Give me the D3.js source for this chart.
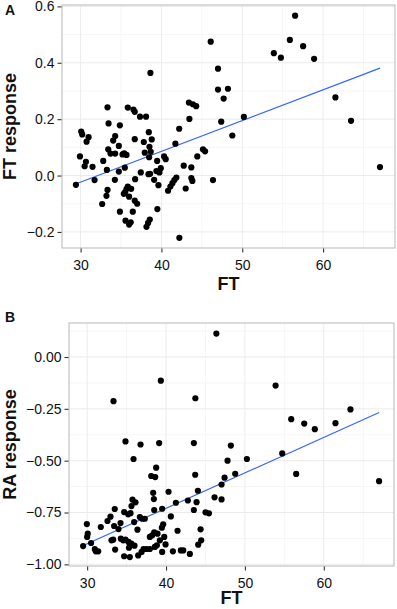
<!DOCTYPE html>
<html lang="en">
<head>
  <meta charset="UTF-8">
  <title>FT vs FT response / RA response</title>
  <script src="https://d3js.org/d3.v7.min.js"></script>
  <style>
    body { margin: 0; background: #fff; font-family: "Liberation Sans", Arial, sans-serif; }
    .grid-major { stroke: #ebebeb; stroke-width: 1px; }
    .grid-minor { stroke: #f6f6f6; stroke-width: 1px; }
    .border { fill: none; stroke: #b8b8b8; stroke-width: 1px; }
    .tick-label { font-size: 14px; fill: #111; }
    .axis-title { font-size: 18px; font-weight: bold; fill: #111; }
    .panel-tag { font-size: 14px; font-weight: bold; fill: #111; }
    .fit { fill: none; stroke: #3366ff; stroke-width: 1.2px; }
    .dot { fill: #000; }
  </style>
</head>
<body>
  <svg width="397" height="609"></svg>
  <script>
    // panel A: FT vs FT response
    var ftA = [46.1,47.0,38.64,47.0,48.23,47.7,33.33,35.84,36.54,36.7,43.4,43.9,44.3,38.1,37.35,43.46,50.2,47.4,33.46,34.86,42.2,38.44,
               30.08,30.2,30.99,30.74,34.28,34.03,36.7,38.8,48.77,37.82,41.73,34.73,38.52,33.42,33.7,34.28,35.19,35.68,35.4,37.94,38.68,
               45.14,45.4,44.44,40.33,40.53,29.92,38.48,39.47,32.8,30.66,30.5,31.48,35.47,33.25,34.73,39.92,39.38,39.75,42.76,43.7,37.45,
               38.4,38.6,31.73,34.24,36.75,39.1,41.85,41.6,41.36,41.11,40.82,43.7,43.83,46.38,39.63,29.42,33.33,35.84,35.68,35.51,35.35,
               36.26,33.2,36.0,43.0,36.7,37.0,32.67,39.5,34.86,36.46,35.56,36.0,36.2,38.56,38.35,38.15,42.22,
               56.54,55.89,57.53,53.91,54.78,58.89,61.53,63.46,67.04];
    var respA = [0.475,0.379,0.364,0.305,0.308,0.273,0.242,0.241,0.234,0.226,0.259,0.253,0.246,0.209,0.209,0.201,0.208,0.191,0.185,0.178,0.166,0.154,
                 0.156,0.146,0.136,0.12,0.14,0.124,0.129,0.128,0.142,0.119,0.113,0.105,0.102,0.093,0.078,0.078,0.075,0.073,0.079,0.081,0.084,
                 0.093,0.086,0.068,0.068,0.058,0.068,0.065,0.052,0.052,0.049,0.033,0.031,0.028,0.02,0.014,0.026,0.016,0.011,0.035,0.029,0.011,
                 0.005,0.006,-0.016,-0.015,-0.013,-0.015,-0.007,-0.016,-0.027,-0.039,-0.054,-0.009,-0.019,-0.016,-0.034,-0.033,-0.051,-0.039,-0.048,-0.059,-0.065,
                 -0.047,-0.072,-0.075,-0.046,-0.089,-0.1,-0.101,-0.119,-0.128,-0.128,-0.16,-0.174,-0.166,-0.156,-0.168,-0.182,-0.221,
                 0.567,0.481,0.459,0.434,0.418,0.414,0.277,0.194,0.03];
    // fitted line (FT, response)
    var fitA = [[29.47, -0.029], [67.04, 0.381]];

    // panel B: FT vs RA response
    var ftB = [39.34,33.34,43.72,46.38,53.89,55.87,57.52,58.86,61.48,63.38,54.73,56.5,67.01,
               34.86,36.77,39.13,43.53,48.22,35.88,47.8,50.25,38.75,38.12,38.63,43.7,48.77,47.42,47.04,40.32,38.37,44.04,38.46,46.15,47.04,
               43.87,42.77,41.25,35.75,36.13,35.62,33.5,39.51,38.5,43.53,45.01,45.44,34.69,35.2,35.5,32.96,40.61,36.68,36.98,35.96,37.31,
               32.58,34.23,29.96,31.73,33.42,33.97,39.64,39.47,36.38,44.38,41.46,30.08,30.0,38.5,38.92,38.25,37.95,39.77,33.09,33.3,34.27,
               34.57,34.86,35.24,35.6,36.0,35.3,44.46,39.22,29.49,30.5,30.97,31.4,31.1,33.55,37.15,37.53,37.95,36.9,39.94,39.51,40.87,
               41.88,42.18,43.02,44.08,34.69,35.41,36.47,38.58,38.84];
    var respB = [-0.114,-0.213,-0.199,0.113,-0.138,-0.30,-0.321,-0.348,-0.319,-0.253,-0.465,-0.564,-0.599,
                 -0.407,-0.422,-0.415,-0.415,-0.427,-0.492,-0.50,-0.492,-0.534,-0.574,-0.579,-0.568,-0.563,-0.582,-0.615,-0.65,-0.655,-0.645,-0.685,-0.677,-0.687,
                 -0.70,-0.692,-0.703,-0.688,-0.701,-0.719,-0.733,-0.732,-0.738,-0.738,-0.749,-0.754,-0.748,-0.759,-0.753,-0.77,-0.769,-0.772,-0.78,-0.796,-0.78,
                 -0.791,-0.801,-0.806,-0.82,-0.815,-0.83,-0.807,-0.823,-0.833,-0.831,-0.838,-0.852,-0.868,-0.846,-0.852,-0.86,-0.868,-0.868,-0.884,-0.881,-0.876,
                 -0.884,-0.881,-0.892,-0.9,-0.91,-0.92,-0.884,-0.884,-0.912,-0.897,-0.926,-0.937,-0.937,-0.929,-0.926,-0.926,-0.926,-0.94,-0.904,-0.94,-0.937,
                 -0.933,-0.933,-0.95,-0.905,-0.961,-0.965,-0.957,-0.916,-0.908];
    var fitB = [[29.58, -0.908], [67.01, -0.268]];

    var xTicks = [30, 40, 50, 60];
    var xMinor = [35, 45, 55, 65];
    var yTicksA = [-0.2, 0.0, 0.2, 0.4, 0.6];
    var yMinorA = [-0.1, 0.1, 0.3, 0.5];
    var yTicksB = [-1.0, -0.75, -0.5, -0.25, 0.0];
    var yMinorB = [-0.875, -0.625, -0.375, -0.125, 0.125];

    var svg = d3.select("svg");

    function drawPanel(p) {
      var x = d3.scaleLinear().domain(p.xDomain).range([p.left, p.right]);
      var y = d3.scaleLinear().domain(p.yDomain).range([p.bottom, p.top]);
      var g = svg.append("g");

      // minor grid
      g.selectAll(".vminor").data(xMinor).enter().append("line")
        .attr("class", "grid-minor")
        .attr("x1", function(d) { return x(d); }).attr("x2", function(d) { return x(d); })
        .attr("y1", p.top).attr("y2", p.bottom);
      g.selectAll(".hminor").data(p.yMinor).enter().append("line")
        .attr("class", "grid-minor")
        .attr("x1", p.left).attr("x2", p.right)
        .attr("y1", function(d) { return y(d); }).attr("y2", function(d) { return y(d); });
      // major grid
      g.selectAll(".vmajor").data(xTicks).enter().append("line")
        .attr("class", "grid-major")
        .attr("x1", function(d) { return x(d); }).attr("x2", function(d) { return x(d); })
        .attr("y1", p.top).attr("y2", p.bottom);
      g.selectAll(".hmajor").data(p.yTicks).enter().append("line")
        .attr("class", "grid-major")
        .attr("x1", p.left).attr("x2", p.right)
        .attr("y1", function(d) { return y(d); }).attr("y2", function(d) { return y(d); });

      // fitted line
      g.append("path")
        .datum(p.fit)
        .attr("class", "fit")
        .attr("d", d3.line().x(function(d) { return x(d[0]); }).y(function(d) { return y(d[1]); }));

      // points
      g.selectAll(".dot").data(p.xs).enter().append("circle")
        .attr("class", "dot")
        .attr("r", 3.1)
        .attr("cx", function(d) { return x(d); })
        .attr("cy", function(d, i) { return y(p.ys[i]); });

      // panel border
      g.append("rect").attr("class", "border")
        .attr("x", p.left).attr("y", p.top)
        .attr("width", p.right - p.left).attr("height", p.bottom - p.top);

      // axes
      var ax = g.append("g").attr("transform", "translate(0," + (p.bottom + 0.5) + ")")
        .call(d3.axisBottom(x).tickValues(xTicks).tickSize(4).tickPadding(5).tickFormat(d3.format("d")));
      var ay = g.append("g").attr("transform", "translate(" + (p.left - 0.5) + ",0)")
        .call(d3.axisLeft(y).tickValues(p.yTicks).tickSize(4).tickPadding(3).tickFormat(p.yFormat));
      [ax, ay].forEach(function(a) {
        a.select(".domain").remove();
        a.selectAll(".tick line").attr("stroke", "#333").attr("stroke-width", 1.1);
        a.selectAll(".tick text").attr("class", "tick-label").attr("font-size", null).attr("font-family", null)
          .attr("fill", null);
      });
      ax.selectAll(".tick text").attr("dy", "0.9em");

      // titles
      svg.append("text").attr("class", "axis-title")
        .attr("x", (p.left + p.right) / 2).attr("y", p.xTitleY)
        .attr("text-anchor", "middle").text("FT");
      svg.append("text").attr("class", "axis-title")
        .attr("transform", "translate(" + p.yTitleX + "," + ((p.top + p.bottom) / 2) + ") rotate(-90)")
        .attr("text-anchor", "middle").text(p.yTitle);
      svg.append("text").attr("class", "panel-tag")
        .attr("x", 5).attr("y", p.tagY).text(p.tag);
    }

    drawPanel({
      xs: ftA, ys: respA, fit: fitA,
      xDomain: [27.7, 68.9], yDomain: [-0.257, 0.605],
      left: 62, right: 395, top: 5, bottom: 248,
      yTicks: yTicksA, yMinor: yMinorA, yFormat: d3.format(".1f"),
      yTitle: "FT response", yTitleX: 16, xTitleY: 290, tag: "A", tagY: 15
    });

    drawPanel({
      xs: ftB, ys: respB, fit: fitB,
      xDomain: [27.7, 68.9], yDomain: [-1.008, 0.164],
      left: 69, right: 394, top: 323, bottom: 566,
      yTicks: yTicksB, yMinor: yMinorB, yFormat: d3.format(".2f"),
      yTitle: "RA response", yTitleX: 16, xTitleY: 604, tag: "B", tagY: 322
    });
  </script>
</body>
</html>
